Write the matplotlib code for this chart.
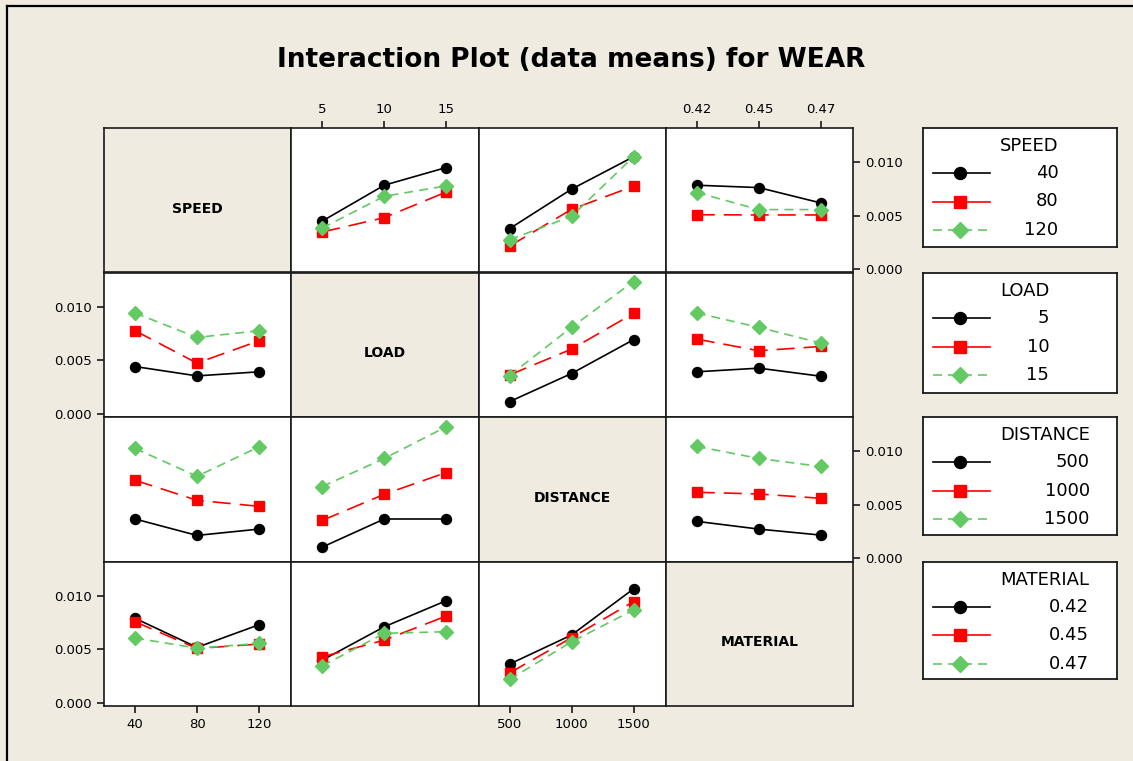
import matplotlib
matplotlib.use("Agg")
import matplotlib.pyplot as plt
from matplotlib.lines import Line2D

plt.rcParams['font.family'] = ['DejaVu Sans']

# ---------------- data ----------------
factors = ["SPEED", "LOAD", "DISTANCE", "MATERIAL"]
speed_levels = ["40", "80", "120"]
load_levels = ["5", "10", "15"]
distance_levels = ["500", "1000", "1500"]
material_levels = ["0.42", "0.45", "0.47"]

# rows = trace factor (legend), inner lists = one trace level across x-factor levels
speed_x_load = [[0.00451, 0.00785, 0.00950], [0.00349, 0.00483, 0.00722], [0.00386, 0.00682, 0.00779]]
speed_x_distance = [[0.00380, 0.00748, 0.01050], [0.00218, 0.00560, 0.00776], [0.00278, 0.00495, 0.01050]]
speed_x_material = [[0.00785, 0.00763, 0.00620], [0.00510, 0.00508, 0.00508], [0.00717, 0.00558, 0.00558]]

load_x_speed = [[0.00442, 0.00355, 0.00393], [0.00776, 0.00474, 0.00682], [0.00941, 0.00713, 0.00776]]
load_x_distance = [[0.00115, 0.00377, 0.00692], [0.00364, 0.00604, 0.00937], [0.00358, 0.00807, 0.01234]]
load_x_material = [[0.00393, 0.00427, 0.00352], [0.00698, 0.00589, 0.00629], [0.00941, 0.00807, 0.00661]]

distance_x_speed = [[0.00368, 0.00215, 0.00274], [0.00729, 0.00542, 0.00486], [0.01025, 0.00766, 0.01040]]
distance_x_load = [[0.00106, 0.00368, 0.00368], [0.00355, 0.00598, 0.00801], [0.00670, 0.00932, 0.01227]]
distance_x_material = [[0.00346, 0.00274, 0.00218], [0.00617, 0.00601, 0.00561], [0.01044, 0.00932, 0.00857]]

material_x_speed = [[0.00789, 0.00518, 0.00729], [0.00757, 0.00508, 0.00549], [0.00605, 0.00511, 0.00555]]
material_x_load = [[0.00399, 0.00710, 0.00953], [0.00430, 0.00586, 0.00810], [0.00346, 0.00649, 0.00664]]
material_x_distance = [[0.00362, 0.00633, 0.01063], [0.00280, 0.00608, 0.00944], [0.00219, 0.00570, 0.00866]]

y_ticks = [0.000, 0.005, 0.010]
y_tick_labels = ["0.000", "0.005", "0.010"]

levels = [speed_levels, load_levels, distance_levels, material_levels]
cells = {
    (0, 1): speed_x_load, (0, 2): speed_x_distance, (0, 3): speed_x_material,
    (1, 0): load_x_speed, (1, 2): load_x_distance, (1, 3): load_x_material,
    (2, 0): distance_x_speed, (2, 1): distance_x_load, (2, 3): distance_x_material,
    (3, 0): material_x_speed, (3, 1): material_x_load, (3, 2): material_x_distance,
}

# ---------------- style ----------------
BG = "#EFEBE1"
W, H = 1133, 761
styles = [
    dict(color="black", marker="o", markersize=7.2, linestyle="-", linewidth=1.2),
    dict(color="#FF0000", marker="s", markersize=6.8, linestyle=(0, (10.8, 5.4)), linewidth=1.2),
    dict(color="#63C963", marker="D", markersize=7.2, linestyle=(0, (5.4, 3.6)), linewidth=1.2),
]

fig = plt.figure(figsize=(W / 100, H / 100), dpi=100, facecolor=BG)

gx0, gx1 = 104, 853
gy0, gy1 = 128, 706
cw = (gx1 - gx0) / 4
ch = (gy1 - gy0) / 4

for r in range(4):
    for c in range(4):
        left = (gx0 + c * cw) / W
        bottom = 1 - (gy0 + (r + 1) * ch) / H
        ax = fig.add_axes([left, bottom, cw / W, ch / H])
        ax.set_xlim(-0.5, 2.52)
        ax.set_ylim(-0.00028, 0.01318)
        for sp in ax.spines.values():
            sp.set_linewidth(1.2)
            sp.set_color("#1a1a1a")
        ax.tick_params(length=5, width=1.2, labelsize=9.5, direction="out", color="#1a1a1a")
        ax.set_xticks([])
        ax.set_yticks([])
        if r == c:
            ax.set_facecolor(BG)
            ax.text(0.5, 0.44, factors[r], transform=ax.transAxes, ha="center", va="center",
                    fontsize=10, fontweight="bold")
            continue
        ax.set_facecolor("white")
        series = cells[(r, c)]
        for k, vals in enumerate(series):
            ax.plot(range(len(vals)), vals, **styles[k], zorder=3 + k)
        if r == 0 and c in (1, 3):
            ax.xaxis.tick_top()
            ax.set_xticks(range(3))
            ax.set_xticklabels(levels[c])
        if r == 3 and c in (0, 2):
            ax.set_xticks(range(3))
            ax.set_xticklabels(levels[c])
        if c == 0 and r in (1, 3):
            ax.set_yticks(y_ticks)
            ax.set_yticklabels(y_tick_labels)
        if c == 3 and r in (0, 2):
            ax.yaxis.tick_right()
            ax.set_yticks(y_ticks)
            ax.set_yticklabels(y_tick_labels)

# ---------------- legends ----------------
leg_boxes = [(128, 247), (273, 393), (417, 535), (562, 679)]
lx0, lx1 = 923, 1117
legend_dashes = ["-", "-", (0, (5.4, 3.6))]
fig.canvas.draw()
renderer = fig.canvas.get_renderer()
for i, (ty, by) in enumerate(leg_boxes):
    lax = fig.add_axes([lx0 / W, 1 - by / H, (lx1 - lx0) / W, (by - ty) / H])
    lax.set_xlim(lx0, lx1)
    lax.set_ylim(by, ty)
    lax.set_xticks([]); lax.set_yticks([])
    lax.set_facecolor("white")
    for sp in lax.spines.values():
        sp.set_linewidth(1.3)
        sp.set_color("#1a1a1a")
    title = lax.text(1000, ty + 18, factors[i], ha="left", va="center", fontsize=13)
    fig.canvas.draw()
    bb = title.get_window_extent(renderer)
    xr = lax.transData.inverted().transform((bb.x1, bb.y0))[0]
    for k, lab in enumerate(levels[i]):
        yy = ty + 45 + 28.5 * k
        st = styles[k]
        lax.plot([933, 990], [yy, yy], color=st["color"], linestyle=legend_dashes[k],
                 linewidth=st["linewidth"])
        lax.plot([960], [yy], color=st["color"], marker=st["marker"],
                 markersize=st["markersize"] * 1.2, linestyle="none")
        lax.text(xr, yy, lab, ha="right", va="center", fontsize=13)

# ---------------- title & frame ----------------
fig.text(571 / W, 1 - 60 / H, "Interaction Plot (data means) for WEAR", ha="center", va="center",
         fontsize=19, fontweight="bold")
fig.add_artist(Line2D([7 / W, 7 / W], [0, 1 - 6 / H], color="black", linewidth=1.6))
fig.add_artist(Line2D([7 / W, 1.01], [1 - 6 / H, 1 - 6 / H], color="black", linewidth=1.6))

fig.savefig("out.png", dpi=100, facecolor=BG)
